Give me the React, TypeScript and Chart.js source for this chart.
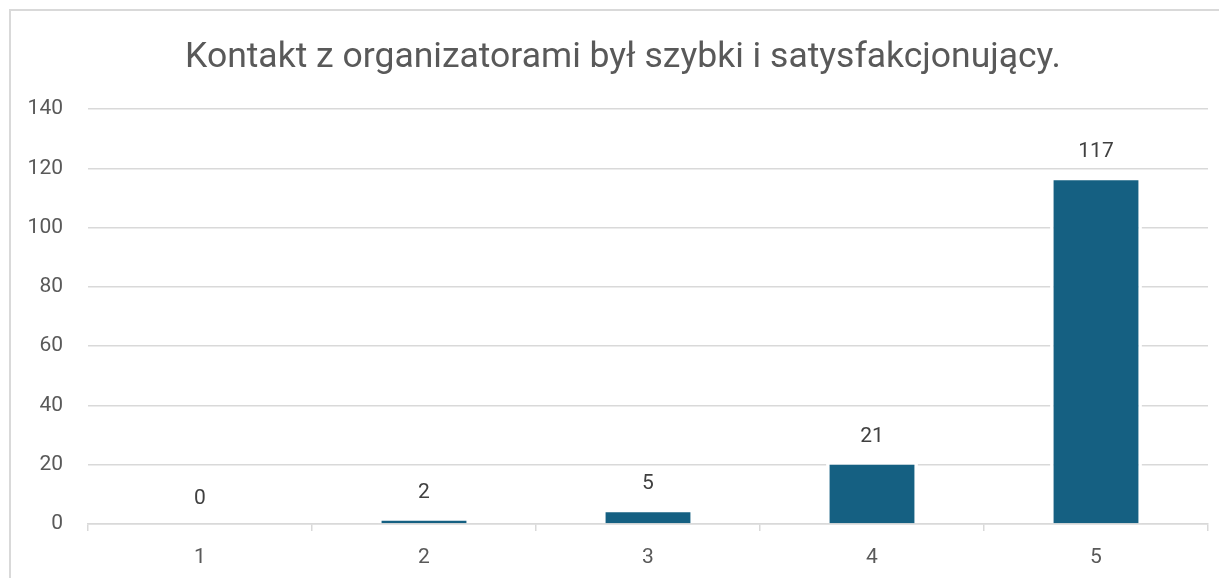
import React, { useEffect, useRef } from "react";
import { Chart, registerables } from "chart.js";

Chart.register(...registerables);

const titleText = "Kontakt z organizatorami był szybki i satysfakcjonujący.";
const categories = ["1", "2", "3", "4", "5"];
const values = [0, 2, 5, 21, 117];
const yMin = 0;
const yMax = 140;
const yStep = 20;

const dataLabelPlugin = {
  id: "dataLabels",
  afterDatasetsDraw(chart: any) {
    const ctx = chart.ctx;
    const meta = chart.getDatasetMeta(0);
    const yScale = chart.scales.y;
    ctx.save();
    ctx.font = "21px Roboto, 'Liberation Sans', sans-serif";
    ctx.fillStyle = "#404040";
    ctx.textAlign = "center";
    ctx.textBaseline = "middle";
    meta.data.forEach((bar: any, i: number) => {
      const v = values[i];
      ctx.fillText(String(v), bar.x, yScale.getPixelForValue(v) - 25);
    });
    ctx.restore();
  },
};

const titleShiftPlugin = {
  id: "titleShift",
  afterLayout(chart: any) {
    if (chart.titleBlock) {
      chart.titleBlock.left = 27;
    }
  },
};

export default function App() {
  const ref = useRef<HTMLCanvasElement | null>(null);

  useEffect(() => {
    document.body.style.overflow = "hidden";
    document.documentElement.style.overflow = "hidden";
    const canvas = ref.current;
    if (!canvas) return;
    const chart = new Chart(canvas, {
      type: "bar",
      data: {
        labels: categories,
        datasets: [
          {
            data: values,
            backgroundColor: "#156082",
            borderColor: "#ffffff",
            borderWidth: { top: 3, left: 3.5, right: 3.5, bottom: 0 },
            borderSkipped: "bottom",
            barPercentage: 0.41,
            categoryPercentage: 1,
          },
        ],
      },
      options: {
        responsive: false,
        animation: false,
        layout: { padding: { left: 0, right: 19, top: 0, bottom: 10 } },
        plugins: {
          legend: { display: false },
          tooltip: { enabled: false },
          title: {
            display: true,
            text: titleText,
            color: "#595959",
            font: { family: "Roboto, sans-serif", size: 35.5, weight: "normal" },
            padding: { top: 25.5, bottom: 29.9 },
          },
        },
        scales: {
          x: {
            grid: {
              display: true,
              drawOnChartArea: false,
              drawTicks: true,
              tickLength: 7,
              color: "#d9d9d9",
              lineWidth: 1.5,
              offset: true,
            },
            border: { display: true, color: "#d9d9d9", width: 1.5 },
            ticks: {
              color: "#595959",
              padding: 14,
              maxRotation: 0,
              font: { family: "Roboto, 'Liberation Sans', sans-serif", size: 21 },
            },
            afterFit: (scale: any) => {
              scale.height = 44;
            },
          },
          y: {
            min: yMin,
            max: yMax,
            ticks: {
              stepSize: yStep,
              color: "#595959",
              padding: 25,
              font: { family: "Roboto, 'Liberation Sans', sans-serif", size: 21 },
            },
            grid: { color: "#d9d9d9", lineWidth: 1.5, drawTicks: false },
            border: { display: false },
            afterFit: (scale: any) => {
              scale.width = 77;
            },
          },
        },
      },
      plugins: [dataLabelPlugin, titleShiftPlugin],
    });
    return () => chart.destroy();
  }, []);

  return (
    <div
      style={{
        marginLeft: 1,
        marginTop: 1,
        width: 1240,
        height: 600,
        border: "2px solid #d9d9d9",
        boxSizing: "border-box",
        background: "#fff",
      }}
    >
      <canvas ref={ref} width={1216} height={567} style={{ display: "block" }} />
    </div>
  );
}
